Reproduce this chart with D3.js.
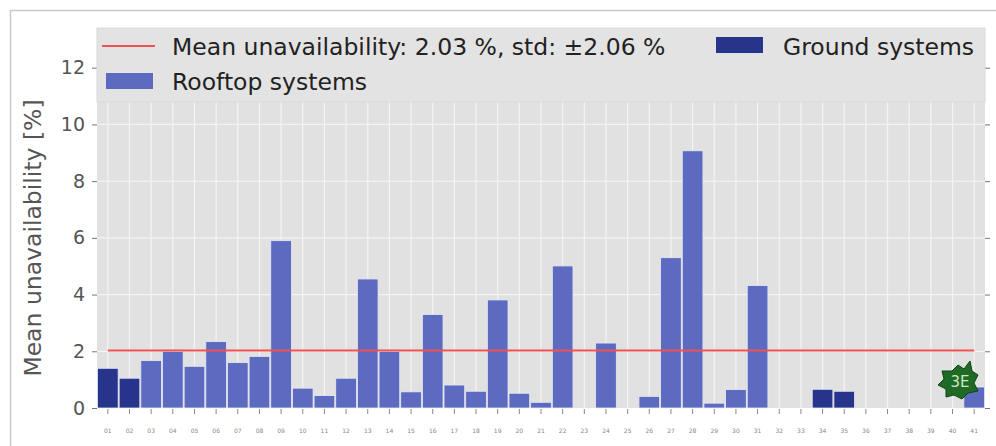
<!DOCTYPE html>
<html><head><meta charset="utf-8">
<script src="https://cdn.jsdelivr.net/npm/d3@7"></script>
<style>body{margin:0;background:#fff;}svg{display:block;font-family:"DejaVu Sans",sans-serif;}</style>
</head><body>
<svg id="c" width="996" height="446"></svg>
<script>
const categories = d3.range(1, 42).map(i => String(i).padStart(2, "0"));
const values = [1.40,1.05,1.67,1.99,1.47,2.34,1.60,1.82,5.90,0.70,0.44,1.05,4.55,1.99,0.57,3.30,0.81,0.59,3.81,0.52,0.20,5.01,0,2.29,0,0.41,5.30,9.07,0.17,0.65,4.32,0,0,0.66,0.59,0,0,0,0,0,0.74];
const groundIds = ["01","02","34","35"];
const yTicks = [0,2,4,6,8,10,12];
const meanValue = 2.03, stdValue = 2.06;
const legendMean = "Mean unavailability: 2.03 %, std: \u00b12.06 %";
const legendRoof = "Rooftop systems";
const legendGround = "Ground systems";
const yLabel = "Mean unavailability [%]";

const svg = d3.select("#c");
const L = 97, R = 985, T = 28, B = 408;
const x = d3.scaleBand().domain(categories).range([L, R]).padding(0);
const y = d3.scaleLinear().domain([0, 13.4]).range([B, T]);
const roofC = "#5c6bc0", groundC = "#27348b";

// outer frame
svg.append("rect").attr("x", 10.5).attr("y", 10.5).attr("width", 1000).attr("height", 500)
  .attr("fill", "none").attr("stroke", "#c9c9c9").attr("stroke-width", 1.5);

// axes bg
svg.append("rect").attr("x", L).attr("y", T).attr("width", R - L).attr("height", B - T).attr("fill", "#e1e1e1");

// grid
svg.append("g").selectAll("line").data(yTicks.filter(d => d > 0)).join("line")
  .attr("x1", L).attr("x2", R).attr("y1", d => y(d)).attr("y2", d => y(d))
  .attr("stroke", "#f4f4f4").attr("stroke-width", 1.3);
svg.append("g").selectAll("line").data(categories).join("line")
  .attr("x1", d => x(d) + x.bandwidth() / 2).attr("x2", d => x(d) + x.bandwidth() / 2)
  .attr("y1", T).attr("y2", B).attr("stroke", "#f4f4f4").attr("stroke-width", 1.2);

// bars
svg.append("g").selectAll("rect").data(categories.map((c, i) => ({c, v: values[i]})).filter(d => d.v > 0)).join("rect")
  .attr("x", d => x(d.c) + 0.5).attr("width", x.bandwidth() - 1)
  .attr("y", d => y(d.v)).attr("height", d => B - y(d.v))
  .attr("fill", d => groundIds.includes(d.c) ? groundC : roofC)
  .attr("stroke", "#e8e8f4").attr("stroke-width", 0.8);

// mean line
svg.append("line")
  .attr("x1", x(categories[0]) + x.bandwidth() / 2).attr("x2", x(categories[categories.length - 1]) + x.bandwidth() / 2)
  .attr("y1", y(meanValue)).attr("y2", y(meanValue))
  .attr("stroke", "#f2514f").attr("stroke-width", 2);

// y axis
const yAx = svg.append("g").attr("transform", `translate(${L},0)`)
  .call(d3.axisLeft(y).tickValues(yTicks).tickSize(5).tickPadding(7));
yAx.select(".domain").remove();
yAx.selectAll("line").attr("stroke", "#777");
yAx.selectAll("text").attr("font-size", 19).attr("fill", "#555").attr("font-family", "DejaVu Sans");
const yAxR = svg.append("g").attr("transform", `translate(${R},0)`)
  .call(d3.axisRight(y).tickValues(yTicks).tickSize(5).tickFormat(""));
yAxR.select(".domain").remove();
yAxR.selectAll("line").attr("stroke", "#777");

// x axis
const xAx = svg.append("g").attr("transform", `translate(0,${B + 1})`)
  .call(d3.axisBottom(x).tickSize(5).tickPadding(15));
xAx.select(".domain").remove();
xAx.selectAll("line").attr("stroke", "#888");
xAx.selectAll("text").attr("font-size", 6).attr("fill", "#888").attr("font-family", "DejaVu Sans");

// y label
svg.append("text").attr("transform", `translate(41,${(T + B) / 2 + 20}) rotate(-90)`)
  .attr("text-anchor", "middle").attr("font-size", 23.5).attr("fill", "#555").text(yLabel);

// legend
const lg = svg.append("g");
lg.append("rect").attr("x", L).attr("y", T).attr("width", R - L).attr("height", 74)
  .attr("fill", "#e3e3e3").attr("stroke", "#dadada");
lg.append("line").attr("x1", 102).attr("x2", 155).attr("y1", 46).attr("y2", 46)
  .attr("stroke", "#f2514f").attr("stroke-width", 2);
lg.append("text").attr("x", 172).attr("y", 55).attr("font-size", 23.5).attr("fill", "#222").text(legendMean);
lg.append("rect").attr("x", 106).attr("y", 73).attr("width", 47).attr("height", 16).attr("fill", roofC);
lg.append("text").attr("x", 172).attr("y", 90).attr("font-size", 23.5).attr("fill", "#222").text(legendRoof);
lg.append("rect").attr("x", 716).attr("y", 37).attr("width", 47).attr("height", 16).attr("fill", groundC);
lg.append("text").attr("x", 783).attr("y", 55).attr("font-size", 23.5).attr("fill", "#222").text(legendGround);

// 3E logo
const logo = svg.append("g").attr("transform", "translate(958,381)");
logo.append("path").attr("d", "M12,-20 L14,-10 L20,-6 L16,2 L20,10 L10,12 L4,18 L-4,14 L-12,16 L-12,8 L-20,4 L-14,-2 L-16,-10 L-6,-10 L0,-16 L6,-12 Z")
  .attr("fill", "#1f6b25").attr("stroke", "#0f4514").attr("stroke-width", 1);
logo.append("text").attr("x", 2).attr("y", 6).attr("text-anchor", "middle").attr("font-size", 15)
  .attr("fill", "#cfe6c6").text("3E");
</script>
</body></html>
